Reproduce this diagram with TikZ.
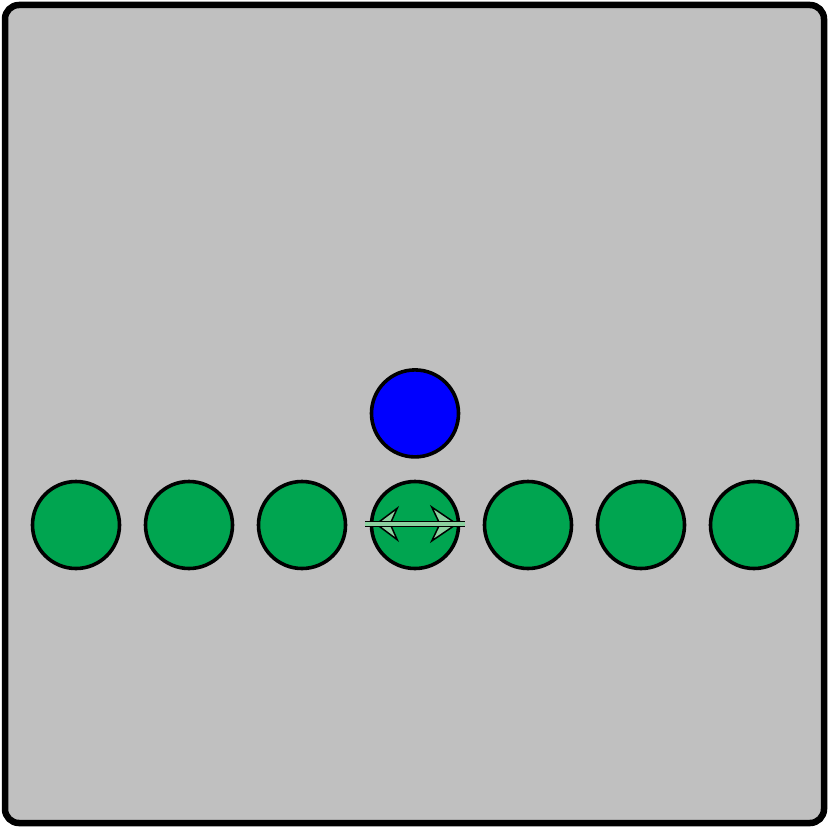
\documentclass[tikz,border=0pt]{standalone}
\usetikzlibrary{arrows.meta, positioning}

\definecolor{boxgray}{RGB}{192,192,192}
\definecolor{ballgreen}{RGB}{0,165,80}
\definecolor{ballblue}{RGB}{0,0,255}
\definecolor{paleGreen}{RGB}{140,210,160}

\tikzset{
  ball/.style={circle, draw=black, line width=3.6pt, minimum size=87pt, inner sep=0pt},
  greenball/.style={ball, fill=ballgreen},
  blueball/.style={ball, fill=ballblue},
  headpart/.style={line width=1.5pt, draw=black,
    {Stealth[length=24pt, width=36pt, inset=8pt, fill=paleGreen]}-{Stealth[length=28pt, width=38pt, inset=9pt, fill=paleGreen]}},
  shaft/.style={draw=black, line width=1.6pt, double=paleGreen, double distance=3.6pt}
}

\begin{document}
\begin{tikzpicture}[x=1pt, y=-1pt]
\useasboundingbox (0,0) rectangle (829,829);
% frame
\draw[line width=6.5pt, rounded corners=14pt, fill=boxgray] (5,5) rectangle (824,823);
% row of green balls
\foreach \i in {1,...,7}
  \node[greenball] (g\i) at ({76+113*(\i-1)},525) {};
% blue ball above the middle one
\node[blueball, above=21pt of g4] (probe) {};
% double arrow across the middle ball
\coordinate (arrL) at (365,524);
\coordinate (arrR) at (465,524);
\draw[headpart] ([xshift=10pt]arrL) -- ([xshift=-7pt]arrR);
\draw[shaft] (arrL) -- (arrR);
\end{tikzpicture}
\end{document}
